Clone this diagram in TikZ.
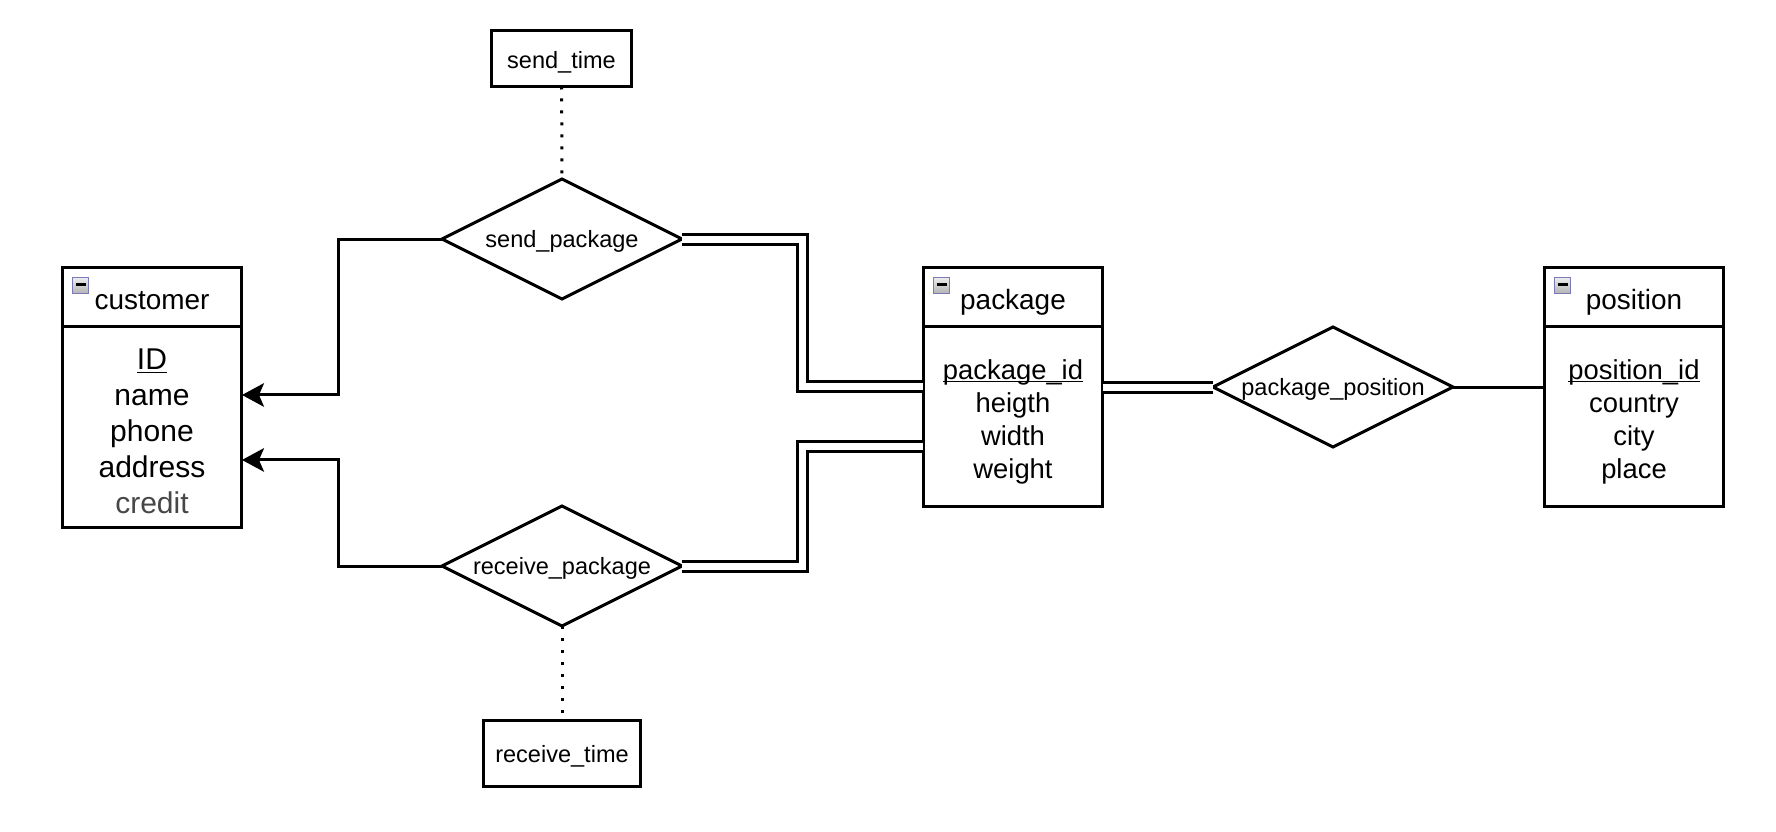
\documentclass[tikz,border=0pt]{standalone}
\usepackage{fontspec}
\setmainfont{Liberation Sans}
\usetikzlibrary{arrows.meta,positioning,shapes.geometric}
\newcommand\keyattr[1]{\underline{\raisebox{0pt}[\height][0pt]{#1}}}

\begin{document}
\begin{tikzpicture}[x=0.02cm,y=-0.02cm,line width=0.06cm,
 >={Stealth[length=0.44cm,width=0.47cm,inset=0.1cm]},
 head/.style={draw,outer sep=0pt,inner sep=0pt,minimum width=3.6cm,minimum height=1.2cm,text height=0.49cm,text depth=0pt,font=\fontsize{15.9}{19}\selectfont},
 attr/.style={draw,outer sep=0pt,inner sep=0pt,minimum width=3.6cm,minimum height=3.6cm},
 keys/.style={inner sep=0pt,align=center,font=\fontsize{15.6}{18.8}\selectfont},
 rel/.style={draw,diamond,aspect=2,outer sep=0pt,inner sep=0pt,minimum width=4.8cm,minimum height=2.4cm,text height=0.35cm,text depth=0pt,font=\fontsize{13.4}{16}\selectfont},
 prop/.style={draw,outer sep=0pt,inner sep=0pt,text height=0.39cm,text depth=0pt,font=\fontsize{13.4}{16}\selectfont},
 icon/.style={draw=gray!70!blue!80,line width=0.6pt,minimum size=0.32cm,inner sep=0pt,anchor=north west,top color=gray!15,bottom color=gray!60,
  path picture={\draw[black,line width=0.06cm] ([xshift=0.06cm,yshift=-0.13cm]path picture bounding box.north west) -- ([xshift=-0.06cm,yshift=-0.13cm]path picture bounding box.north east);}},
 dbl/.style={double,double distance=0.14cm},
 dotline/.style={dash pattern=on 0.06cm off 0.18cm}]
\useasboundingbox (0,0) rectangle (1776,832);

% entities
\node[head] (custH) at (152,297) {customer};
\node[attr,minimum height=4.02cm,below=0pt of custH] (custB) {};
\node[keys,font=\fontsize{17.1}{20.5}\selectfont] (custA) at ([yshift=-0.08cm]custB.center) {\keyattr{ID}\\name\\phone\\address\\\textcolor{black!72}{credit}};
\node[icon] (custI) at ([xshift=0.2cm,yshift=-0.2cm]custH.north west) {};

\node[head] (pkgH) at (1013,297) {package};
\node[attr,below=0pt of pkgH] (pkgB) {};
\node[keys] (pkgA) at ([yshift=-0.09cm]pkgB.center) {\keyattr{package\_id}\\heigth\\width\\weight};
\node[icon] (pkgI) at ([xshift=0.2cm,yshift=-0.2cm]pkgH.north west) {};

\node[head] (posH) at (1634,297) {position};
\node[attr,below=0pt of posH] (posB) {};
\node[keys] (posA) at ([yshift=-0.09cm]posB.center) {\keyattr{position\_id}\\country\\city\\place};
\node[icon] (posI) at ([xshift=0.2cm,yshift=-0.2cm]posH.north west) {};

% relations
\node[rel] (sendR) at (562,239) {send\_package};
\node[rel] (recvR) at (562,566) {receive\_package};
\node[rel] (pposR) at (1333,387) {package\_position};

\node[prop,minimum width=2.8cm,minimum height=1.12cm] (sendT) at (561.5,58.5) {send\_time};
\node[prop,minimum width=3.16cm,minimum height=1.32cm] (recvT) at (562,753) {receive\_time};

% links
\draw[->] (sendR.west) -- ++(-104,0) |- ([yshift=0.65cm]custB.east);
\draw[->] (recvR.west) -- ++(-104,0) |- ([yshift=-0.65cm]custB.east);
\draw[dbl] (sendR.east) -- ++(121,0) |- ([yshift=0.6cm]pkgB.west);
\draw[dbl] (recvR.east) -- ++(121,0) |- ([yshift=-0.6cm]pkgB.west);
\draw[dbl] (pposR.west -| pkgB.east) -- (pposR.west);
\draw (pposR.east) -- (pposR.east -| posB.west);
\draw[dotline] (sendT) -- (sendR.north);
\draw[dotline] (recvR.south) -- (recvT);
\end{tikzpicture}
\end{document}
